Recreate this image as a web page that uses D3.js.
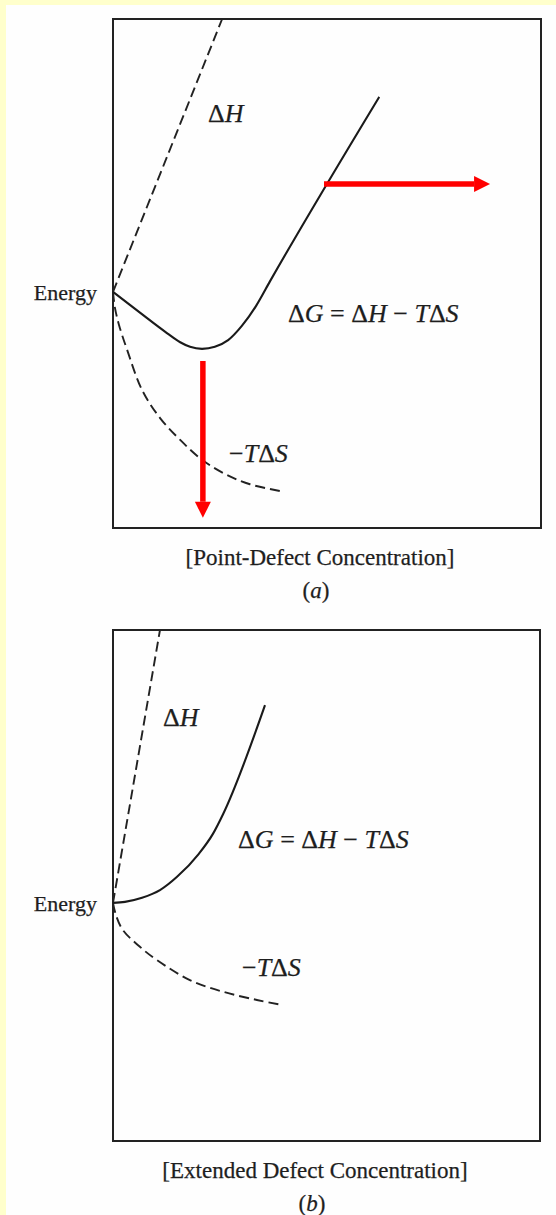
<!DOCTYPE html>
<html>
<head>
<meta charset="utf-8">
<script src="https://cdn.jsdelivr.net/npm/d3@7/dist/d3.min.js"></script>
<style>
  html, body { margin: 0; padding: 0; background: #fefefe; }
  svg { display: block; }
  text { font-family: "Liberation Serif", "Times New Roman", serif; fill: #1e1e1e; stroke: #1e1e1e; stroke-width: 0.25; }
</style>
</head>
<body>
<svg id="chart" width="556" height="1215"></svg>
<script>
// Free-energy curves vs. defect concentration, in arbitrary units (0–100 on both axes).

// Panel (a): point defects
const pointEnthalpy = [[0, 46.4], [25.5, 100]];
const pointEntropy = [
  [0, 46.4], [0.47, 43.2], [1.4, 39.9], [3.3, 35.0], [6.8, 27.1], [11.0, 21.6],
  [15.7, 17.3], [20.8, 13.4], [26.2, 10.6], [32.0, 8.6], [40.0, 7.1]
];
const pointGibbs = [
  [0, 46.4], [6.3, 42.3], [12.6, 38.3], [15.7, 36.5], [18.0, 35.6], [20.8, 35.2],
  [23.8, 35.6], [26.9, 36.9], [30.1, 39.7], [33.4, 43.6], [36.7, 48.5], [62.2, 84.7]
];
// equilibrium arrows: [from, to]
const pointArrowDown = [[21.0, 32.8], [21.0, 2.0]];
const pointArrowRight = [[49.3, 67.6], [88.1, 67.6]];

// Panel (b): extended defects
const extEnthalpy = [[0, 46.6], [11.0, 100]];
const extEntropy = [
  [0, 46.6], [0.7, 44.2], [2.3, 41.3], [6.3, 38.0], [10.3, 35.4], [18.0, 31.5],
  [25.8, 29.2], [33.7, 27.6], [39.8, 26.6]
];
const extGibbs = [
  [0, 46.6], [2.8, 46.8], [6.8, 47.6], [11.0, 49.1], [15.0, 51.7], [20.1, 56.2],
  [23.4, 60.1], [25.8, 64.0], [35.6, 85.3]
];

// Texts
const axisLabels = ["[Point-Defect Concentration]", "[Extended Defect Concentration]"];
const panelTags = ["a", "b"];
const yAxisLabel = "Energy";

const svg = d3.select("#chart");

// page background with the pale yellow edge
svg.append("rect").attr("width", 556).attr("height", 1215).attr("fill", "#fefefe");
svg.append("rect").attr("x", 0).attr("y", 0).attr("width", 556).attr("height", 5).attr("fill", "#ffffcc");
svg.append("rect").attr("x", 0).attr("y", 0).attr("width", 6).attr("height", 1215).attr("fill", "#ffffcc");

const panels = [
  {
    box: { left: 113, right: 541, top: 19, bottom: 528 },
    enthalpy: pointEnthalpy, entropy: pointEntropy, gibbs: pointGibbs,
    arrows: [pointArrowDown, pointArrowRight],
    label: axisLabels[0], tag: panelTags[0],
    dH: [22.2, 79.8], dG: [40.9, 40.5], tS: [27.1, 13.0],
    axisCx: 320, tagCx: 316
  },
  {
    box: { left: 113, right: 540, top: 630, bottom: 1141 },
    enthalpy: extEnthalpy, entropy: extEntropy, gibbs: extGibbs,
    arrows: [],
    label: axisLabels[1], tag: panelTags[1],
    dH: [11.7, 81.2], dG: [29.3, 57.3], tS: [30.2, 32.3],
    axisCx: 315, tagCx: 312
  }
];

function deltaLabel(g, x, y, parts, size) {
  const t = g.append("text").attr("x", x).attr("y", y).attr("font-size", size);
  parts.forEach(([s, italic]) => {
    t.append("tspan").text(s).attr("font-style", italic ? "italic" : "normal");
  });
  return t;
}

panels.forEach(p => {
  const b = p.box;
  const x = d3.scaleLinear().domain([0, 100]).range([b.left, b.right]);
  const y = d3.scaleLinear().domain([0, 100]).range([b.bottom, b.top]);
  const g = svg.append("g");

  // frame
  g.append("rect")
    .attr("x", b.left).attr("y", b.top)
    .attr("width", b.right - b.left).attr("height", b.bottom - b.top)
    .attr("fill", "none").attr("stroke", "#222").attr("stroke-width", 2);

  const line = d3.line().x(d => x(d[0])).y(d => y(d[1]));
  const smooth = d3.line().x(d => x(d[0])).y(d => y(d[1])).curve(d3.curveCatmullRom.alpha(0.5));
  const mono = d3.line().x(d => x(d[0])).y(d => y(d[1])).curve(d3.curveMonotoneX);

  g.append("path").attr("d", line(p.enthalpy))
    .attr("fill", "none").attr("stroke", "#222").attr("stroke-width", 1.9)
    .attr("stroke-dasharray", "10,5");
  g.append("path").attr("d", smooth(p.entropy))
    .attr("fill", "none").attr("stroke", "#222").attr("stroke-width", 1.9)
    .attr("stroke-dasharray", "10,5");
  g.append("path").attr("d", mono(p.gibbs))
    .attr("fill", "none").attr("stroke", "#1a1a1a").attr("stroke-width", 2.1);

  // red arrows
  p.arrows.forEach(a => {
    const x0 = x(a[0][0]), y0 = y(a[0][1]), x1 = x(a[1][0]), y1 = y(a[1][1]);
    const ang = Math.atan2(y1 - y0, x1 - x0);
    const head = 16, half = 8, shaft = 5.5;
    const bx = x1 - head * Math.cos(ang), by = y1 - head * Math.sin(ang);
    const nx = -Math.sin(ang), ny = Math.cos(ang);
    g.append("line")
      .attr("x1", x0).attr("y1", y0).attr("x2", bx).attr("y2", by)
      .attr("stroke", "#ff0000").attr("stroke-width", shaft);
    g.append("path")
      .attr("d", `M${x1},${y1}L${bx + nx * half},${by + ny * half}L${bx - nx * half},${by - ny * half}Z`)
      .attr("fill", "#ff0000");
  });

  // curve labels
  deltaLabel(g, x(p.dH[0]), y(p.dH[1]), [["Δ", false], ["H", true]], 26);
  deltaLabel(g, x(p.dG[0]), y(p.dG[1]),
    [["Δ", false], ["G", true], [" = Δ", false], ["H", true], [" − ", false], ["T", true], ["Δ", false], ["S", true]], 26);
  deltaLabel(g, x(p.tS[0]), y(p.tS[1]), [["−", false], ["T", true], ["Δ", false], ["S", true]], 26);

  // y-axis label at the origin of the curves
  g.append("text").attr("x", b.left - 16).attr("y", y(p.gibbs[0][1]) + 8)
    .attr("text-anchor", "end").attr("font-size", 22).text(yAxisLabel);

  // x-axis label and panel tag
  g.append("text").attr("x", p.axisCx).attr("y", b.bottom + 37)
    .attr("text-anchor", "middle").attr("font-size", 23).text(p.label);
  const tag = g.append("text").attr("x", p.tagCx).attr("y", b.bottom + 70)
    .attr("text-anchor", "middle").attr("font-size", 23);
  tag.append("tspan").text("(");
  tag.append("tspan").attr("font-style", "italic").text(p.tag);
  tag.append("tspan").text(")");
});
</script>
</body>
</html>
